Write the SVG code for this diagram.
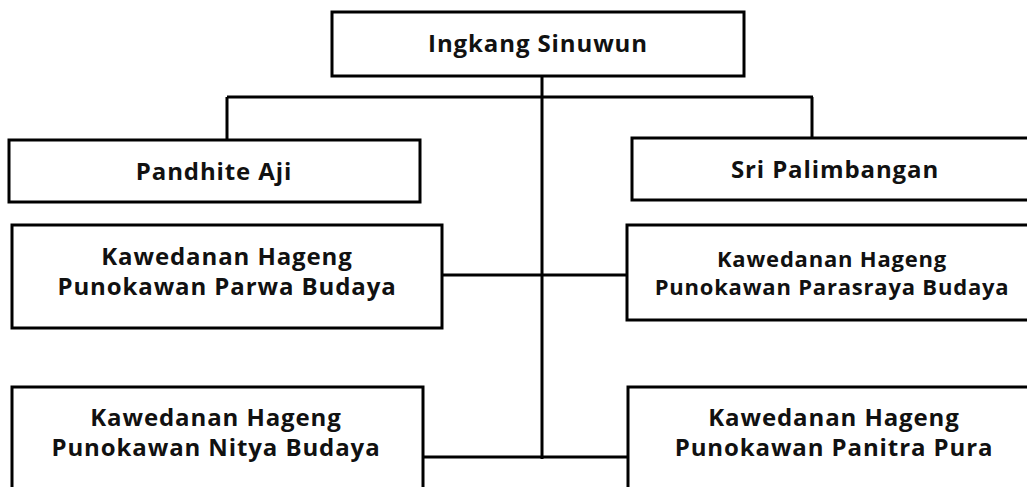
<svg xmlns="http://www.w3.org/2000/svg" width="1027" height="487" viewBox="0 0 1027 487">
<style>
.box{fill:#fff;stroke:#000;stroke-width:3}
.ln{stroke:#000;stroke-width:3;fill:none}
.t{font-family:"Open Sans","Noto Sans",sans-serif;font-weight:700;font-size:24px;letter-spacing:0.9px;fill:#111;text-anchor:middle}
.s{font-size:22px;letter-spacing:0.8px}
</style>
<rect width="1027" height="487" fill="#fff"/>
<g id="connectors">
<path class="ln" d="M542 76V459M227 97H813M227 97V140M812 97V138M442 275H627M423 457H628"/>
</g>
<g id="n-ingkang"><rect class="box" x="332" y="12" width="412" height="64"/><text class="t" x="538" y="52">Ingkang Sinuwun</text></g>
<g id="n-pandhite"><rect class="box" x="9" y="140" width="411" height="62"/><text class="t" x="214" y="180">Pandhite Aji</text></g>
<g id="n-sri"><rect class="box" x="632" y="138" width="406" height="62"/><text class="t" x="835" y="178">Sri Palimbangan</text></g>
<g id="n-parwa"><rect class="box" x="12" y="225" width="430" height="103"/><text class="t" x="227" y="265">Kawedanan Hageng<tspan x="227" dy="30">Punokawan Parwa Budaya</tspan></text></g>
<g id="n-parasraya"><rect class="box" x="627" y="225" width="411" height="95"/><text class="t s" x="832" y="267">Kawedanan Hageng<tspan x="832" dy="28">Punokawan Parasraya Budaya</tspan></text></g>
<g id="n-nitya"><rect class="box" x="12" y="387" width="411" height="120"/><text class="t" x="216" y="426">Kawedanan Hageng<tspan x="216" dy="30">Punokawan Nitya Budaya</tspan></text></g>
<g id="n-panitra"><rect class="box" x="628" y="387" width="410" height="120"/><text class="t" x="834" y="426">Kawedanan Hageng<tspan x="834" dy="30">Punokawan Panitra Pura</tspan></text></g>
</svg>
